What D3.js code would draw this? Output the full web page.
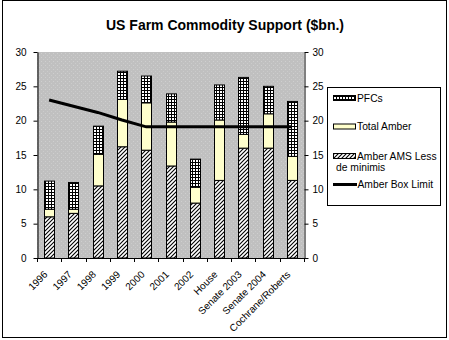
<!DOCTYPE html>
<html><head><meta charset="utf-8">
<script src="https://cdn.jsdelivr.net/npm/d3@7"></script>
<style>body{margin:0;background:#fff}text{font-family:"Liberation Sans",Arial,sans-serif}</style>
</head><body>
<svg id="c" width="449" height="340"></svg>
<script>
const categories = ["1996","1997","1998","1999","2000","2001","2002","House","Senate 2003","Senate 2004","Cochrane/Roberts"];
const amberAMS   = [6.0, 6.5, 10.5, 16.2, 15.7, 13.4, 8.0, 11.3, 16.0, 16.0, 11.3];
const totalAmber = [1.1, 0.6, 4.6, 6.9, 6.9, 6.4, 2.3, 8.8, 2.0, 5.0, 3.5];
const pfcs       = [4.1, 3.9, 4.1, 4.1, 3.9, 4.1, 4.1, 5.1, 8.3, 4.0, 8.0];
const amberBoxLimit = [23.0, 22.1, 21.2, 20.1, 19.1, 19.1, 19.1, 19.1, 19.1, 19.1, 19.1];
const yTicks = [0, 5, 10, 15, 20, 25, 30];
const seriesKeys = ["amberAMS", "totalAmber", "pfcs"];

const svg = d3.select("#c");
const defs = svg.append("defs");

// background speckle
const bg = defs.append("pattern").attr("id","bgp").attr("patternUnits","userSpaceOnUse").attr("width",4).attr("height",4);
bg.append("rect").attr("width",4).attr("height",4).attr("fill","#c0c0c0");
bg.append("rect").attr("x",1).attr("y",1).attr("width",1).attr("height",1).attr("fill","#cfcfcf");
bg.append("rect").attr("x",3).attr("y",3).attr("width",1).attr("height",1).attr("fill","#cbcbcb");

// hatch
const h = defs.append("pattern").attr("id","hatch").attr("patternUnits","userSpaceOnUse").attr("width",4).attr("height",4);
h.append("rect").attr("width",4).attr("height",4).attr("fill","#fff");
h.append("path").attr("d","M-1,5 L5,-1 M-1,1 L1,-1 M3,5 L5,3").attr("stroke","#000").attr("stroke-width",1.1);

// grid
const g = defs.append("pattern").attr("id","grid").attr("patternUnits","userSpaceOnUse").attr("width",3).attr("height",3);
g.append("rect").attr("width",3).attr("height",3).attr("fill","#000");
g.append("rect").attr("x",1).attr("y",1).attr("width",2).attr("height",2).attr("fill","#fff");

const fills = {amberAMS:"url(#hatch)", totalAmber:"#ffffcc", pfcs:"url(#grid)"};

const L = 37, R = 304, T = 52, B = 258;
const x = d3.scaleBand().domain(categories).range([L, R]).paddingInner(0.59).paddingOuter(0.295);
const y = d3.scaleLinear().domain([0, 30]).range([B, T]);

// frame
svg.append("rect").attr("x",2.5).attr("y",0.5).attr("width",444).attr("height",337).attr("fill","#fff").attr("stroke","#000").attr("stroke-width",1);

// title
svg.append("text").attr("x",225).attr("y",29.5).attr("text-anchor","middle").attr("font-size",14).attr("font-weight","bold").text("US Farm Commodity Support ($bn.)");

// plot bg
svg.append("rect").attr("x",L).attr("y",T).attr("width",R-L).attr("height",B-T).attr("fill","url(#bgp)");

// stacked bars
const rows = categories.map((c,i)=>({cat:c, amberAMS:amberAMS[i], totalAmber:totalAmber[i], pfcs:pfcs[i]}));
const stacked = d3.stack().keys(seriesKeys)(rows);
stacked.forEach(s => {
  svg.append("g").selectAll("rect").data(s).join("rect")
    .attr("x", d => Math.round(x(d.data.cat)) + 0.5)
    .attr("width", Math.round(x.bandwidth()))
    .attr("y", d => y(d[1]))
    .attr("height", d => y(d[0]) - y(d[1]))
    .attr("fill", fills[s.key]).attr("stroke","#000").attr("stroke-width",1);
});

// line
const line = d3.line().x((d,i)=>x(categories[i]) + x.bandwidth()/2).y(d=>y(d));
svg.append("path").datum(amberBoxLimit).attr("d",line).attr("fill","none").attr("stroke","#000").attr("stroke-width",3);

// axes
const ax = svg.append("g").attr("transform",`translate(${L+0.5},0)`)
  .call(d3.axisLeft(y).tickValues(yTicks).tickSize(4).tickSizeOuter(0).tickPadding(7));
const ax2 = svg.append("g").attr("transform",`translate(${R+0.5},0)`)
  .call(d3.axisRight(y).tickValues(yTicks).tickSize(4).tickSizeOuter(0).tickPadding(4));
[ax, ax2].forEach(a => {
  a.selectAll("text").attr("font-size",10).attr("font-family",'"Liberation Sans",Arial,sans-serif').attr("fill","#000");
  a.selectAll("line,path").attr("stroke","#000");
});

// bottom axis
const step = x.step();
const x0 = x(categories[0]) - (step - x.bandwidth())/2;
const bx = svg.append("g");
bx.append("line").attr("x1",L).attr("x2",R+1).attr("y1",B+0.5).attr("y2",B+0.5).attr("stroke","#000");
d3.range(categories.length+1).forEach(i=>{
  const xx = Math.round(x0 + i*step) + 0.5;
  bx.append("line").attr("x1",xx).attr("x2",xx).attr("y1",B).attr("y2",B+4).attr("stroke","#000");
});
bx.selectAll("text").data(categories).join("text")
  .attr("transform", d => `translate(${x(d)+x.bandwidth()/2-6},270) rotate(-45)`)
  .attr("text-anchor","end").attr("dy","0.72em").attr("font-size",10).text(d=>d);

// legend
const lg = svg.append("g");
lg.append("rect").attr("x",327.5).attr("y",87.5).attr("width",113).attr("height",118).attr("fill","#fff").attr("stroke","#000");
const legendItems = [
  {key:"pfcs", label:["PFCs"], y:98},
  {key:"totalAmber", label:["Total Amber"], y:126.5},
  {key:"amberAMS", label:["Amber AMS Less","de minimis"], y:156}
];
legendItems.forEach(it=>{
  lg.append("rect").attr("x",333.5).attr("y",it.y-2.5).attr("width",22).attr("height",5).attr("fill",fills[it.key]).attr("stroke","#000");
  lg.append("text").attr("x",357).attr("y",it.y).attr("dy","0.35em").attr("font-size",10.3).text(it.label[0]);
  if (it.label[1]) lg.append("text").attr("x",336).attr("y",it.y+11.5).attr("dy","0.35em").attr("font-size",10.3).text(it.label[1]);
});
lg.append("line").attr("x1",333).attr("x2",357).attr("y1",184.5).attr("y2",184.5).attr("stroke","#000").attr("stroke-width",3);
lg.append("text").attr("x",357.5).attr("y",184.5).attr("dy","0.35em").attr("font-size",10.3).text("Amber Box Limit");
</script>
</body></html>
